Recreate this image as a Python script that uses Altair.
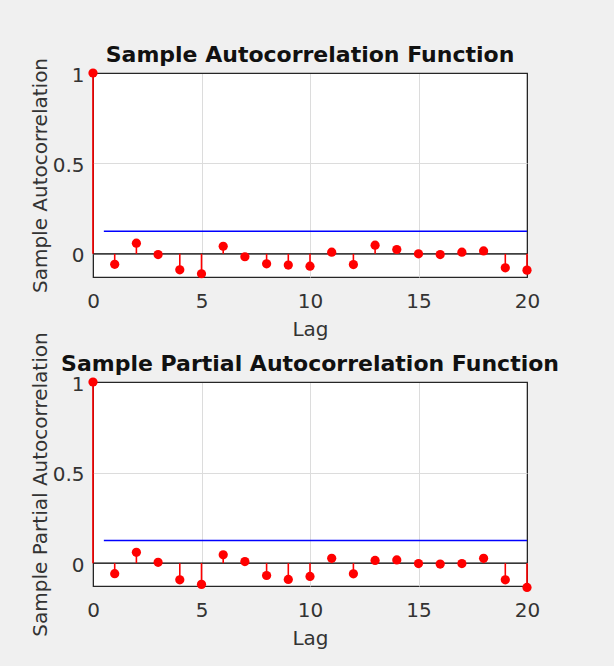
import altair as alt
import pandas as pd

lags = list(range(21))
acf_vals = [1.0, -0.058, 0.059, -0.004, -0.088, -0.110, 0.042, -0.016, -0.055, -0.062,
            -0.068, 0.009, -0.059, 0.048, 0.024, 0.000, -0.004, 0.009, 0.016, -0.077, -0.090]
pacf_vals = [1.0, -0.058, 0.060, 0.005, -0.092, -0.117, 0.046, 0.009, -0.068, -0.090,
             -0.073, 0.027, -0.059, 0.015, 0.018, -0.002, -0.005, -0.002, 0.027, -0.092, -0.134]
bound = 0.125
bound_start = 0.5
x_ticks = [0, 5, 10, 15, 20]
y_ticks = [0, 0.5, 1]

FONT = "DejaVu Sans"
FRAME = "#262626"


def panel(vals, title, ytitle, ymin, title_offset):
    df = pd.DataFrame({"lag": lags, "value": vals, "base": [0.0] * len(lags)})
    base_df = pd.DataFrame({"x0": [min(lags)], "x1": [max(lags)], "y": [0.0]})
    bound_df = pd.DataFrame({"x0": [bound_start], "x1": [max(lags)], "y": [bound]})

    xscale = alt.Scale(domain=[min(lags), max(lags)], nice=False)
    yscale = alt.Scale(domain=[ymin, 1], nice=False, zero=False)
    xaxis = alt.Axis(
        values=x_ticks, title="Lag", labelPadding=14, titlePadding=8, labelFlush=False,
        gridColor={"condition": {"test": "datum.value == 0 || datum.value == 20",
                                 "value": FRAME}, "value": "#dcdcdc"},
    )
    yaxis = alt.Axis(
        values=y_ticks, format="~g", title=ytitle, labelPadding=9, labelFlush=False,
        titlePadding=2, labelOffset=2,
        gridColor={"condition": {"test": "datum.value == 1", "value": FRAME},
                   "value": "#dcdcdc"},
    )

    zero_line = alt.Chart(base_df).mark_rule(color="#000000", strokeWidth=1.3).encode(
        x=alt.X("x0:Q", scale=xscale, axis=xaxis),
        x2="x1:Q",
        y=alt.Y("y:Q", scale=yscale, axis=yaxis),
    )
    bound_line = alt.Chart(bound_df).mark_rule(color="#0000ff", strokeWidth=1.5).encode(
        x=alt.X("x0:Q", scale=xscale, axis=xaxis),
        x2="x1:Q",
        y=alt.Y("y:Q", scale=yscale, axis=yaxis),
    )
    stems = alt.Chart(df).mark_rule(color="#ff0000", strokeWidth=1.6).encode(
        x=alt.X("lag:Q", scale=xscale, axis=xaxis),
        y=alt.Y("base:Q", scale=yscale, axis=yaxis),
        y2="value:Q",
    )
    dots = alt.Chart(df).mark_circle(color="#ff0000", size=85, opacity=1).encode(
        x=alt.X("lag:Q", scale=xscale, axis=xaxis),
        y=alt.Y("value:Q", scale=yscale, axis=yaxis),
    )
    return alt.layer(zero_line, bound_line, stems, dots).properties(
        width=434, height=204,
        title=alt.TitleParams(title, frame="group", anchor="middle", offset=title_offset,
                              baseline="alphabetic"),
    )


top = panel(acf_vals, "Sample Autocorrelation Function", "Sample Autocorrelation",
            -0.128, -27)
bottom = panel(pacf_vals, "Sample Partial Autocorrelation Function",
               "Sample Partial Autocorrelation", -0.126, -61)

chart = alt.vconcat(top, bottom, spacing=105, bounds="flush").properties(
    background="#f0f0f0",
    padding={"left": 29, "top": 43, "right": 54, "bottom": 17},
).configure_view(
    fill="white", stroke=FRAME, strokeWidth=1.2
).configure_axis(
    domain=False, ticks=False, grid=True, gridWidth=1,
    labelFont=FONT, labelFontSize=20, labelColor="#333333",
    titleFont=FONT, titleFontSize=20, titleFontWeight="normal", titleColor="#333333",
).configure_title(
    font=FONT, fontSize=22, fontWeight="bold", color="#111111"
)

chart.save("out.html", embed_options={"renderer": "svg", "actions": False})
